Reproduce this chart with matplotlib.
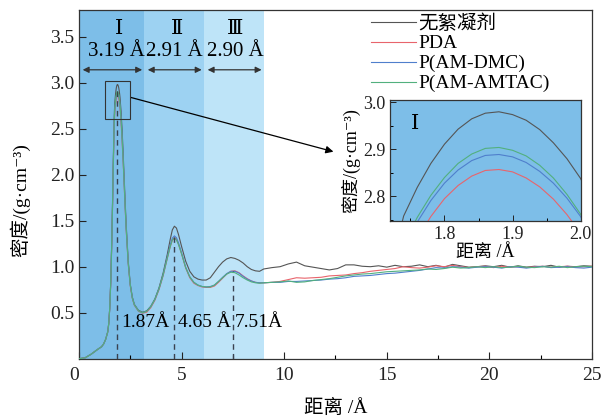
import numpy as np
import matplotlib
matplotlib.use('Agg')
import matplotlib.pyplot as plt
from matplotlib.patches import Rectangle
from matplotlib.ticker import MultipleLocator

plt.rcParams['font.family'] = ['Liberation Serif', 'Noto Sans CJK SC', 'DejaVu Sans']

# distance grid (Å), dense around the first peak
x = [0.0, 0.3, 0.6, 0.9, 1.1, 1.2, 1.3, 1.4, 1.45, 1.5, 1.55, 1.6, 1.64, 1.67, 1.7,
     1.72, 1.74, 1.76, 1.78, 1.80, 1.82, 1.84, 1.86, 1.88, 1.90, 1.92, 1.94, 1.96, 1.98, 2.00,
     2.05, 2.1, 2.15, 2.2, 2.25, 2.3, 2.4, 2.5, 2.6, 2.7, 2.9, 3.1, 3.3, 3.5, 3.7, 3.9, 4.1, 4.3,
     4.45, 4.55, 4.65, 4.75, 4.85, 5.0, 5.2, 5.4, 5.6, 5.8, 6.0, 6.2, 6.4, 6.6, 6.8,
     7.0, 7.2, 7.4, 7.6, 7.8, 8.0, 8.2, 8.4, 8.6, 8.8, 9.0,
     9.4, 9.8, 10.2, 10.6, 11.0, 11.4, 11.8, 12.2, 12.6, 13.0, 13.4, 13.8, 14.2, 14.6, 15.0,
     15.4, 15.8, 16.2, 16.6, 17.0, 17.4, 17.8, 18.2, 18.6, 19.0, 19.4, 19.8, 20.2, 20.6, 21.0,
     21.4, 21.8, 22.2, 22.6, 23.0, 23.4, 23.8, 24.2, 24.6, 25.0]

no_floc = [0.0, 0.01, 0.05, 0.10, 0.13, 0.16, 0.21, 0.29, 0.38, 0.55, 0.85, 1.30, 1.75, 2.12, 2.45,
           2.64, 2.758, 2.819, 2.870, 2.911, 2.943, 2.965, 2.977, 2.980, 2.974, 2.962, 2.942, 2.914, 2.880, 2.838,
           2.69, 2.49, 2.25, 1.98, 1.71, 1.46, 1.06, 0.81, 0.67, 0.59, 0.525, 0.505, 0.52, 0.57, 0.65, 0.77, 0.93, 1.13,
           1.30, 1.40, 1.44, 1.42, 1.35, 1.22, 1.06, 0.95, 0.89, 0.865, 0.855, 0.855, 0.88, 0.94, 1.00,
           1.05, 1.085, 1.10, 1.09, 1.07, 1.04, 1.00, 0.97, 0.955, 0.95, 0.975,
           0.99, 1.00, 1.03, 1.05, 1.01, 0.995, 0.98, 0.965, 0.98, 1.02, 1.02, 1.005, 1.0, 1.01, 0.995,
           1.015, 1.0, 1.005, 1.02, 1.0, 1.015, 0.995, 1.025, 1.01, 0.995, 1.0, 1.01, 1.0, 1.015, 0.995,
           1.01, 0.995, 1.005, 1.0, 1.015, 0.995, 1.005, 1.0, 1.01, 1.005]

pda = [0.0, 0.01, 0.05, 0.10, 0.13, 0.16, 0.21, 0.29, 0.38, 0.55, 0.83, 1.26, 1.69, 2.04, 2.36,
       2.55, 2.655, 2.710, 2.757, 2.795, 2.823, 2.843, 2.855, 2.857, 2.852, 2.839, 2.820, 2.794, 2.761, 2.721,
       2.57, 2.37, 2.15, 1.90, 1.64, 1.40, 1.03, 0.79, 0.655, 0.58, 0.515, 0.495, 0.505, 0.555, 0.635, 0.75, 0.90, 1.085,
       1.22, 1.29, 1.315, 1.30, 1.245, 1.14, 0.985, 0.88, 0.82, 0.795, 0.78, 0.775, 0.775, 0.79, 0.83,
       0.875, 0.92, 0.95, 0.955, 0.935, 0.90, 0.87, 0.845, 0.83, 0.825, 0.825,
       0.83, 0.84, 0.86, 0.88, 0.875, 0.88, 0.885, 0.90, 0.905, 0.91, 0.925, 0.935, 0.95, 0.96, 0.97,
       0.98, 1.0, 0.99, 0.985, 0.995, 1.01, 1.0, 1.015, 1.0, 0.99, 1.0, 1.005, 0.99, 1.005, 0.995,
       1.0, 0.99, 1.0, 1.005, 0.995, 1.0, 1.005, 0.995, 1.0, 1.005]

am_dmc = [0.0, 0.01, 0.05, 0.10, 0.13, 0.16, 0.21, 0.29, 0.38, 0.55, 0.84, 1.27, 1.71, 2.07, 2.39,
          2.585, 2.690, 2.745, 2.791, 2.828, 2.856, 2.876, 2.887, 2.889, 2.884, 2.872, 2.853, 2.828, 2.796, 2.757,
          2.61, 2.41, 2.18, 1.92, 1.66, 1.42, 1.04, 0.80, 0.66, 0.585, 0.52, 0.50, 0.515, 0.565, 0.645, 0.76, 0.91, 1.10,
          1.24, 1.31, 1.335, 1.315, 1.26, 1.15, 0.995, 0.89, 0.83, 0.80, 0.785, 0.78, 0.785, 0.80, 0.84,
          0.885, 0.925, 0.95, 0.95, 0.93, 0.895, 0.865, 0.845, 0.83, 0.825, 0.825,
          0.83, 0.83, 0.84, 0.84, 0.845, 0.85, 0.855, 0.865, 0.87, 0.88, 0.895, 0.90, 0.905, 0.915, 0.925,
          0.93, 0.94, 0.95, 0.96, 0.975, 0.99, 0.985, 1.0, 0.995, 0.985, 0.995, 1.0, 0.995, 0.985, 1.0,
          0.995, 0.985, 0.995, 1.005, 0.99, 0.995, 1.0, 0.99, 0.985, 0.995]

am_amtac = [0.0, 0.01, 0.05, 0.10, 0.13, 0.16, 0.21, 0.29, 0.38, 0.55, 0.84, 1.28, 1.72, 2.08, 2.40,
            2.59, 2.698, 2.755, 2.802, 2.840, 2.870, 2.890, 2.902, 2.904, 2.898, 2.886, 2.866, 2.839, 2.804, 2.762,
            2.61, 2.41, 2.18, 1.92, 1.66, 1.42, 1.04, 0.80, 0.66, 0.585, 0.52, 0.50, 0.515, 0.565, 0.645, 0.76, 0.91, 1.09,
            1.22, 1.29, 1.31, 1.29, 1.24, 1.14, 0.99, 0.89, 0.83, 0.80, 0.785, 0.78, 0.78, 0.80, 0.84,
            0.88, 0.92, 0.94, 0.935, 0.91, 0.88, 0.855, 0.835, 0.825, 0.82, 0.825,
            0.83, 0.835, 0.845, 0.83, 0.835, 0.85, 0.86, 0.87, 0.885, 0.90, 0.91, 0.92, 0.925, 0.935, 0.945,
            0.95, 0.955, 0.96, 0.965, 0.975, 0.97, 0.98, 0.995, 0.985, 0.99, 1.0, 0.99, 1.0, 0.99, 0.995,
            1.005, 0.995, 0.99, 1.0, 0.995, 1.005, 0.99, 1.0, 1.005, 1.0]

series = [('无絮凝剂', no_floc, '#555555'),
          ('PDA', pda, '#e8646c'),
          ('P(AM-DMC)', am_dmc, '#4f7fcc'),
          ('P(AM-AMTAC)', am_amtac, '#52b07e')]

region_edges = [0.0, 3.19, 6.10, 9.00]
region_colors = ['#7dbee8', '#9dd2f2', '#bee4f8']
region_names = ['Ⅰ', 'Ⅱ', 'Ⅲ']
region_widths = ['3.19 Å', '2.91 Å', '2.90 Å']
peak_pos = [1.87, 4.65, 7.51]
peak_labels = ['1.87Å', '4.65 Å', '7.51Å']

density_label = '密度/(g·cm⁻³)'
dist_label = '距离 /Å'

fig = plt.figure(figsize=(6.01, 4.16), dpi=100)
ax = fig.add_axes([0.1314, 0.1377, 0.8536, 0.8383])

for i in range(3):
    ax.axvspan(region_edges[i], region_edges[i + 1], color=region_colors[i], lw=0, zorder=0)

for name, y, c in series:
    ax.plot(x, y, color=c, lw=0.8, label=name, zorder=3)

# dashed markers at the peak positions
tops = [2.95, 1.32, 0.95]
ax.vlines(peak_pos, 0, tops, colors='#3a4250', linestyles=(0, (4, 3)), lw=1.0, zorder=4)
label_x = [2.04, 4.82, 7.57]
for lx, t in zip(label_x, peak_labels):
    ax.text(lx, 0.39, t, fontsize=14, va='center', ha='left', zorder=5)

# region headers and double arrows
arrow_spans = [(0.18, 3.08), (3.35, 5.98), (6.27, 8.90)]
name_x = [1.95, 4.79, 7.60]
width_x = [1.84, 4.65, 7.64]
for (a0, a1), nx, wx, nm, wd in zip(arrow_spans, name_x, width_x, region_names, region_widths):
    ax.annotate('', xy=(a1, 3.14), xytext=(a0, 3.14),
                arrowprops=dict(arrowstyle='<|-|>', color='#333333', lw=0.9,
                                mutation_scale=9, shrinkA=0, shrinkB=0))
    ax.text(nx, 3.59, nm, fontsize=15, ha='center', va='center',
            family=['DejaVu Serif', 'Noto Sans CJK SC'])
    ax.text(wx, 3.34, wd, fontsize=15, ha='center', va='center')

# zoom box and pointer to the inset
ax.add_patch(Rectangle((1.25, 2.60), 1.24, 0.42, fill=False, ec='#333333', lw=0.8, zorder=5))
ax.annotate('', xy=(12.4, 2.25), xytext=(2.52, 2.84),
            arrowprops=dict(arrowstyle='-|>', color='black', lw=0.9,
                            mutation_scale=11, shrinkA=0, shrinkB=0))

ax.set_xlim(0, 25)
ax.set_ylim(0, 3.79)
ax.set_xticks([0, 5, 10, 15, 20, 25])
ax.set_yticks([0.5, 1.0, 1.5, 2.0, 2.5, 3.0, 3.5])
ax.xaxis.set_minor_locator(MultipleLocator(2.5))
ax.tick_params(direction='in', length=5, width=0.8, labelsize=14, colors='#222222')
ax.tick_params(axis='x', pad=6)
ax.tick_params(which='minor', direction='in', length=3, width=0.8)
ax.get_xticklabels()[0].set_horizontalalignment('right')
for s in ax.spines.values():
    s.set_color('#333333')
    s.set_linewidth(0.9)
ax.set_xlabel(dist_label, fontsize=14)
ax.set_ylabel(density_label, fontsize=14)
ax.xaxis.set_label_coords(0.5, -0.115)
ax.yaxis.set_label_coords(-0.095, 0.455)

ax.legend(loc='upper left', bbox_to_anchor=(371 / 601, 1 - 14 / 416),
          bbox_transform=fig.transFigure, frameon=False, fontsize=14,
          handlelength=2.3, handletextpad=0.15, labelspacing=0.12,
          borderpad=0, borderaxespad=0)

# inset on the first peak
axin = fig.add_axes([0.649, 0.4695, 0.317, 0.290])
axin.set_facecolor(region_colors[0])
for name, y, c in series:
    axin.plot(x, y, color=c, lw=0.8)
axin.set_xlim(1.72, 2.0)
axin.set_ylim(2.748, 3.005)
axin.set_xticks([1.8, 1.9, 2.0])
axin.set_yticks([2.8, 2.9, 3.0])
axin.xaxis.set_minor_locator(MultipleLocator(0.05))
axin.yaxis.set_minor_locator(MultipleLocator(0.05))
axin.tick_params(direction='in', length=4, width=0.7, labelsize=13, colors='#222222')
axin.tick_params(which='minor', direction='in', length=2, width=0.7)
for s in axin.spines.values():
    s.set_color('#333333')
    s.set_linewidth(0.9)
axin.text(1.757, 2.955, 'Ⅰ', fontsize=15, ha='center', va='center',
          family=['DejaVu Serif', 'Noto Sans CJK SC'])
axin.set_xlabel(dist_label, fontsize=13, labelpad=1)
axin.set_ylabel(density_label, fontsize=13, labelpad=2)

fig.savefig('out.png', dpi=100)
